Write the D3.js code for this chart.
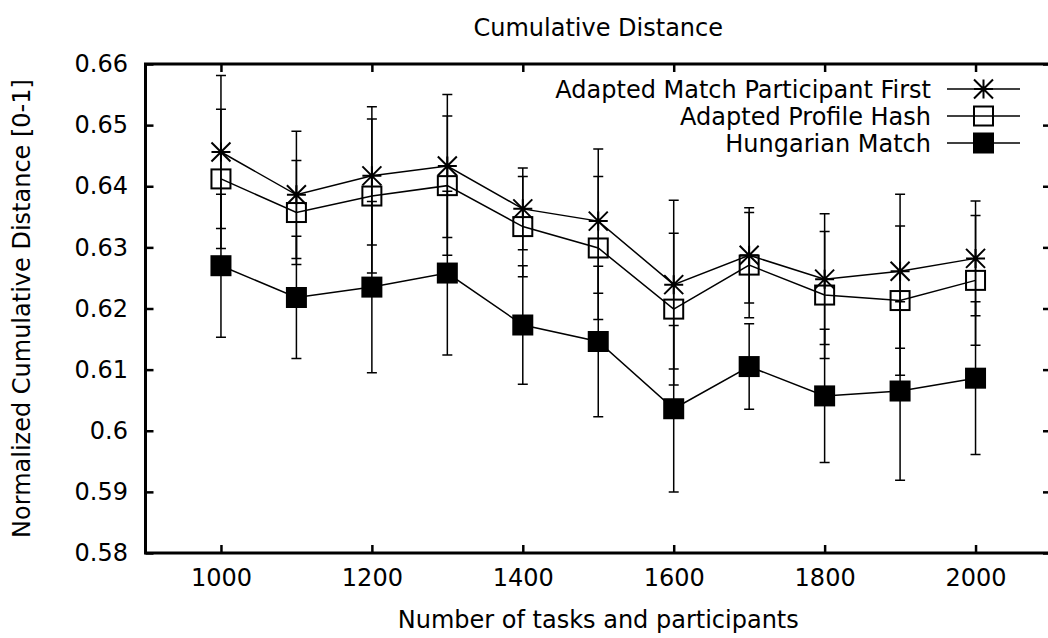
<!DOCTYPE html>
<html>
<head>
<meta charset="utf-8">
<script src="https://cdn.jsdelivr.net/npm/d3@7"></script>
<style>
  body { margin: 0; background: #fff; }
  svg { display: block; font-family: "DejaVu Sans", sans-serif; }
</style>
</head>
<body>
<div id="chart"></div>
<script>
// Data
const taskCounts = [1000, 1100, 1200, 1300, 1400, 1500, 1600, 1700, 1800, 1900, 2000];

const participantFirst = [0.6456, 0.6386, 0.6417, 0.6433, 0.6363, 0.6343, 0.6239, 0.6287, 0.6248, 0.6261, 0.6282];
const participantFirstErr = [0.0125, 0.0104, 0.0113, 0.0117, 0.0067, 0.0118, 0.0138, 0.0078, 0.0107, 0.0126, 0.0094];

const profileHash = [0.6412, 0.6357, 0.6384, 0.6401, 0.6334, 0.6299, 0.6199, 0.6271, 0.6222, 0.6213, 0.6246];
const profileHashErr = [0.0114, 0.0085, 0.0126, 0.0114, 0.0082, 0.0117, 0.0124, 0.0086, 0.0104, 0.0122, 0.0106];

const hungarian = [0.6270, 0.6218, 0.6235, 0.6258, 0.6173, 0.6146, 0.6036, 0.6105, 0.6057, 0.6065, 0.6086];
const hungarianErr = [0.0117, 0.0100, 0.0140, 0.0134, 0.0097, 0.0123, 0.0136, 0.0070, 0.0109, 0.0146, 0.0125];

const seriesNames = ["Adapted Match Participant First", "Adapted Profile Hash", "Hungarian Match"];

const xTicks = [1000, 1200, 1400, 1600, 1800, 2000];
const xTickLabels = ["1000", "1200", "1400", "1600", "1800", "2000"];
const yTicks = [0.58, 0.59, 0.60, 0.61, 0.62, 0.63, 0.64, 0.65, 0.66];
const yTickLabels = ["0.58", "0.59", "0.6", "0.61", "0.62", "0.63", "0.64", "0.65", "0.66"];

// Dimensions (the right border falls just outside the picture, as in the original)
const width = 1048, height = 638;
const plotLeft = 145.5, plotRight = 1051, plotTop = 64, plotBottom = 553;
const fontSize = 24;

const svg = d3.select("#chart").append("svg")
  .attr("width", width)
  .attr("height", height);

const xScale = d3.scaleLinear().domain([900, 2100]).range([plotLeft, plotRight]);
const yScale = d3.scaleLinear().domain([0.58, 0.66]).range([plotBottom, plotTop]);

// Axes with inward ticks, gnuplot style
const styleAxis = g => {
  g.select(".domain").remove();
  g.selectAll(".tick line").attr("stroke", "#000").attr("stroke-width", 2.5);
  g.selectAll(".tick text").attr("fill", "#000").style("font-size", fontSize + "px")
    .style("font-family", "DejaVu Sans, sans-serif");
};

svg.append("g")
  .attr("transform", `translate(${plotLeft},0)`)
  .call(d3.axisLeft(yScale).tickValues(yTicks)
    .tickFormat((d, i) => yTickLabels[i]).tickSize(-8).tickPadding(17.5))
  .call(styleAxis);

svg.append("g")
  .attr("transform", `translate(${plotRight},0)`)
  .call(d3.axisRight(yScale).tickValues(yTicks).tickFormat("").tickSize(-8))
  .call(styleAxis);

svg.append("g")
  .attr("transform", `translate(0,${plotBottom})`)
  .call(d3.axisBottom(xScale).tickValues(xTicks)
    .tickFormat((d, i) => xTickLabels[i]).tickSize(-8).tickPadding(16))
  .call(styleAxis);

svg.append("g")
  .attr("transform", `translate(0,${plotTop})`)
  .call(d3.axisTop(xScale).tickValues(xTicks).tickFormat("").tickSize(-8))
  .call(styleAxis);

// Frame
svg.append("rect")
  .attr("x", plotLeft)
  .attr("y", plotTop)
  .attr("width", plotRight - plotLeft)
  .attr("height", plotBottom - plotTop)
  .attr("fill", "none")
  .attr("stroke", "#000")
  .attr("stroke-width", 3);

// Titles
svg.append("text")
  .attr("x", (plotLeft + plotRight) / 2)
  .attr("y", 36)
  .attr("text-anchor", "middle")
  .style("font-size", fontSize + "px")
  .text("Cumulative Distance");

svg.append("text")
  .attr("x", (plotLeft + plotRight) / 2)
  .attr("y", 628)
  .attr("text-anchor", "middle")
  .style("font-size", fontSize + "px")
  .text("Number of tasks and participants");

svg.append("text")
  .attr("transform", `translate(30,${(plotTop + plotBottom) / 2}) rotate(-90)`)
  .attr("text-anchor", "middle")
  .style("font-size", fontSize + "px")
  .text("Normalized Cumulative Distance [0-1]");

// Marker drawing helpers
const half = 9.5;
function drawMarker(g, kind, cx, cy) {
  if (kind === "star") {
    g.append("path")
      .attr("d", `M${cx - half},${cy}H${cx + half}M${cx},${cy - half}V${cy + half}` +
        `M${cx - half},${cy - half}L${cx + half},${cy + half}M${cx - half},${cy + half}L${cx + half},${cy - half}`)
      .attr("stroke", "#000")
      .attr("stroke-width", 2)
      .attr("fill", "none");
  } else {
    g.append("rect")
      .attr("x", cx - half)
      .attr("y", cy - half)
      .attr("width", half * 2)
      .attr("height", half * 2)
      .attr("fill", kind === "filled" ? "#000" : "none")
      .attr("stroke", "#000")
      .attr("stroke-width", 2);
  }
}

const series = [
  { name: seriesNames[0], values: participantFirst, errors: participantFirstErr, marker: "star" },
  { name: seriesNames[1], values: profileHash, errors: profileHashErr, marker: "open" },
  { name: seriesNames[2], values: hungarian, errors: hungarianErr, marker: "filled" }
];

const line = d3.line()
  .x(d => xScale(d.x))
  .y(d => yScale(d.y));

const capHalf = 5;

series.forEach(s => {
  const points = taskCounts.map((x, i) => ({ x: x, y: s.values[i], e: s.errors[i] }));
  const g = svg.append("g");

  // Error bars
  g.selectAll(".err")
    .data(points)
    .join("path")
    .attr("d", d => {
      const cx = xScale(d.x), top = yScale(d.y + d.e), bot = yScale(d.y - d.e);
      return `M${cx},${top}V${bot}M${cx - capHalf},${top}H${cx + capHalf}M${cx - capHalf},${bot}H${cx + capHalf}`;
    })
    .attr("stroke", "#000")
    .attr("stroke-width", 1.5)
    .attr("fill", "none");

  // Connecting line
  g.append("path")
    .datum(points)
    .attr("d", line)
    .attr("fill", "none")
    .attr("stroke", "#000")
    .attr("stroke-width", 1.5);

  points.forEach(p => drawMarker(g, s.marker, xScale(p.x), yScale(p.y)));
});

// Legend
const legendRows = [89, 116, 143];
const legendTextRight = 931, sampleLeft = 947, sampleRight = 1020;
series.forEach((s, i) => {
  const y = legendRows[i];
  svg.append("text")
    .attr("x", legendTextRight)
    .attr("y", y)
    .attr("dy", "0.36em")
    .attr("text-anchor", "end")
    .style("font-size", fontSize + "px")
    .text(s.name);
  svg.append("line")
    .attr("x1", sampleLeft)
    .attr("x2", sampleRight)
    .attr("y1", y)
    .attr("y2", y)
    .attr("stroke", "#000")
    .attr("stroke-width", 1.5);
  drawMarker(svg, s.marker, (sampleLeft + sampleRight) / 2, y);
});
</script>
</body>
</html>
